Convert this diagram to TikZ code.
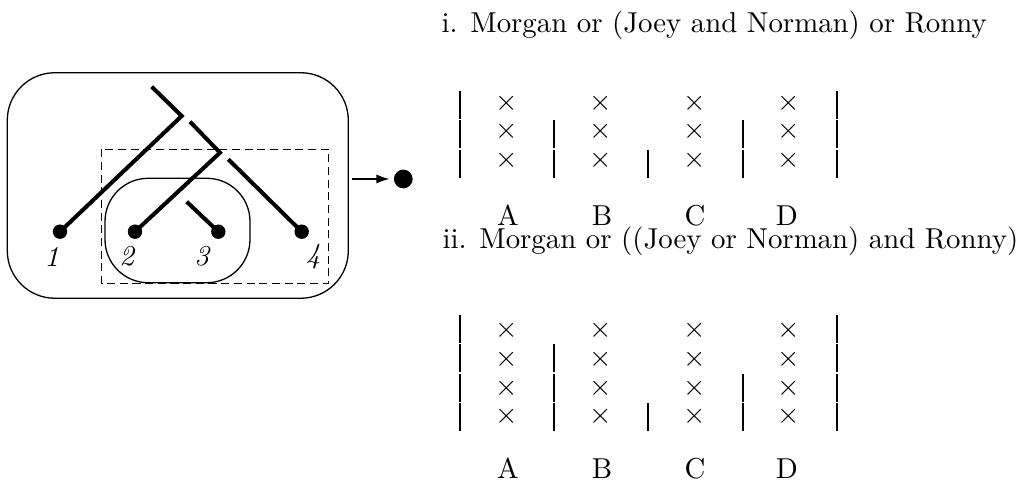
\documentclass[tikz,border=0pt]{standalone}
\usepackage{tikz}
\usetikzlibrary{arrows.meta, calc}
\tikzset{
  branch/.style={line width=1.4pt, line join=miter},
  leaf/.style={circle, fill=black, inner sep=0pt, minimum size=5pt},
  leaflabel/.style={font=\itshape, inner sep=0pt},
  bar/.style={line width=0.45pt},
  crossmark/.style={inner sep=0pt},
  colname/.style={anchor=base, inner sep=0pt},
  thinline/.style={line width=0.45pt}
}

\begin{document}
\begin{tikzpicture}[x=0.3472pt, y=-0.3472pt]
  \useasboundingbox (0,0) rectangle (1021,480);

  % ===== 左侧：树 =====
  % 外框
  \node[draw, thinline, rounded corners=16.5pt, minimum width=118.4pt, minimum height=78.3pt] (outerbox) at (177.8,185.5) {};
  % 虚线框
  \draw[thinline, dash pattern=on 2.8pt off 1.6pt] (101.7,149.3) rectangle (328.3,283.3);
  % 内圈
  \draw[thinline, rounded corners=15pt] (105,178.3) rectangle (250,282.7);

  % 叶子
  \node[leaf] (leaf1) at (60,231.7) {};
  \node[leaf] (leaf2) at (135,231.7) {};
  \node[leaf] (leaf3) at (218.3,231.7) {};
  \node[leaf] (leaf4) at (301.7,231.7) {};
  \node[leaflabel] (lab1) at (51.7,256.7) {1};
  \node[leaflabel] (lab2) at (126.7,256.7) {2};
  \node[leaflabel] (lab3) at (201.7,256.7) {3};
  \node[leaflabel] (lab4) at (313.3,256.7) {4};

  % 分支
  \coordinate (root) at (151.7,86.7);
  \coordinate (knee1) at (181.7,116);
  \coordinate (top2) at (190,121.7);
  \coordinate (knee2) at (220,152.7);
  \coordinate (top3) at (186.7,201.7);
  \coordinate (top4) at (228.3,159.3);
  \draw[branch] (root) -- (knee1) -- (leaf1.center);
  \draw[branch] (top2) -- (knee2) -- (leaf2.center);
  \draw[branch] (top3) -- (leaf3.center);
  \draw[branch] (top4) -- (leaf4.center);

  % 输出
  \node[circle, fill=black, inner sep=0pt, minimum size=6.5pt] (outdot) at (403.3,179) {};
  \draw[-{Latex[length=4.6pt, width=3.2pt]}, line width=0.6pt, shorten <=1.2pt, shorten >=1.3pt] (outerbox.east |- outdot) -- (outdot);

  % ===== 右侧：表 i =====
  \node[anchor=base west, inner sep=0pt] (titlei) at (441,33) {i. Morgan or (Joey and Norman) or Ronny};
  \foreach \bx/\nb in {460/3, 554/2, 648/1, 743/2, 837/3}
    \foreach \r in {1,...,\nb}
      \draw[bar] (\bx,{178.3-\r*29.4+0.9}) -- ++(0,28);
  \foreach \cx [count=\c] in {506.7, 601, 695, 788.3}
    \foreach \ry [count=\r] in {103.3, 131.7, 160}
      \node[crossmark] (xi-\c-\r) at (\cx,\ry) {$\times$};
  \foreach \cx/\lab in {508/A, 602/B, 695/C, 787/D}
    \node[colname] (labi-\lab) at (\cx,226) {\lab};

  % ===== 右侧：表 ii =====
  \node[anchor=base west, inner sep=0pt] (titleii) at (442,249) {ii. Morgan or ((Joey or Norman) and Ronny)};
  \foreach \bx/\nb in {460/4, 554/3, 648/1, 743/2, 837/4}
    \foreach \r in {1,...,\nb}
      \draw[bar] (\bx,{431.7-\r*29.5+0.9}) -- ++(0,28);
  \foreach \cx [count=\c] in {506.7, 601, 695, 788.3}
    \foreach \ry [count=\r] in {330, 359.3, 388.3, 416.7}
      \node[crossmark] (xii-\c-\r) at (\cx,\ry) {$\times$};
  \foreach \cx/\lab in {508/A, 602/B, 695/C, 787/D}
    \node[colname] (labii-\lab) at (\cx,478.3) {\lab};
\end{tikzpicture}
\end{document}
